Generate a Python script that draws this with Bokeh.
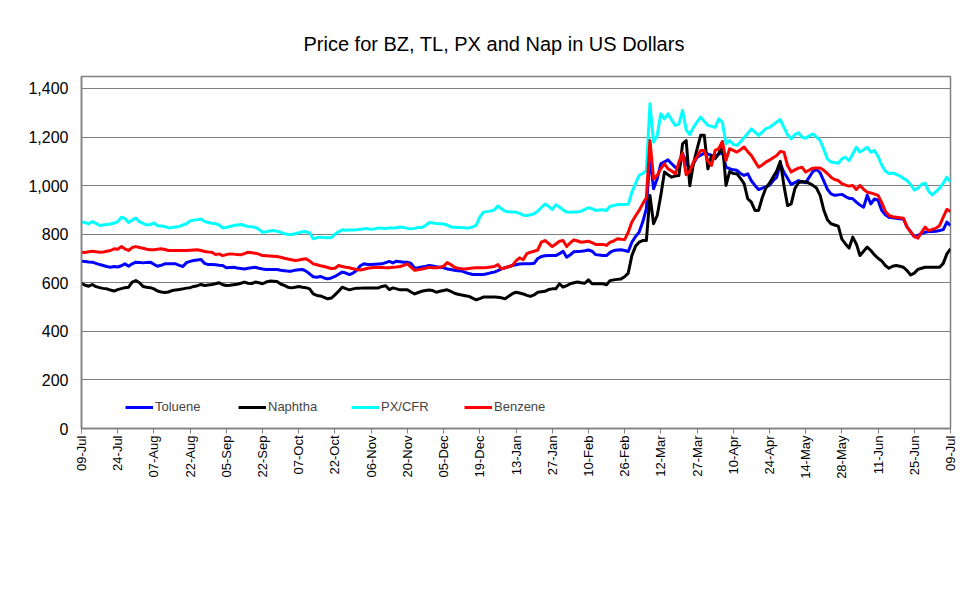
from bokeh.plotting import figure
from bokeh.models import FixedTicker, NumeralTickFormatter, Range1d, Legend, LegendItem
from bokeh.embed import file_html
from bokeh.resources import INLINE
import math

tick_labels = ["09-Jul", "24-Jul", "07-Aug", "22-Aug", "05-Sep", "22-Sep", "07-Oct", "22-Oct",
               "06-Nov", "20-Nov", "05-Dec", "19-Dec", "13-Jan", "27-Jan", "10-Feb", "26-Feb",
               "12-Mar", "27-Mar", "10-Apr", "24-Apr", "14-May", "28-May", "11-Jun", "25-Jun", "09-Jul"]

toluene = [
    689, 688, 686, 685, 680, 675, 671, 667, 664, 667,
    665, 670, 678, 668, 678, 685, 684, 682, 684, 685,
    676, 668, 672, 678, 678, 678, 678, 672, 667, 683,
    688, 692, 694, 696, 680, 675, 675, 674, 672, 671,
    662, 663, 664, 661, 659, 657, 660, 662, 664, 660,
    657, 655, 655, 655, 655, 652, 650, 648, 648, 652,
    654, 655, 648, 637, 625, 623, 626, 620, 616, 620,
    626, 635, 644, 640, 634, 640, 651, 670, 678, 675,
    675, 676, 677, 678, 683, 688, 682, 689, 687, 685,
    685, 680, 660, 662, 665, 667, 671, 669, 666, 664,
    662, 657, 655, 652, 650, 648, 643, 638, 634, 634,
    634, 634, 637, 641, 644, 650, 657, 662, 666, 671,
    674, 677, 678, 678, 678, 680, 700, 708, 711, 712,
    712, 712, 720, 730, 705, 715, 728, 729, 730, 732,
    735, 730, 716, 714, 712, 712, 725, 733, 735, 736,
    733, 729, 767, 790, 808, 850, 905, 1124, 987, 1028,
    1090, 1098, 1106, 1090, 1075, 1069, 1131, 1100, 1063, 1090,
    1117, 1125, 1134, 1130, 1125, 1121, 1130, 1138, 1076, 1070,
    1065, 1063, 1050, 1042, 1049, 1020, 1001, 984, 990, 995,
    1001, 1020, 1035, 1090, 1055, 1030, 1005, 1012, 1021, 1015,
    1012, 1035, 1058, 1067, 1053, 1020, 985, 966, 960, 962,
    964, 955, 948, 946, 932, 920, 911, 960, 925, 945,
    940, 898, 880, 870, 868, 866, 864, 863, 830, 810,
    790, 795, 802, 808, 811, 811, 812, 815, 819, 850, 836]

naphtha = [
    598, 590, 586, 593, 584, 580, 577, 575, 570, 566,
    572, 576, 580, 582, 603, 609, 600, 585, 582, 580,
    575, 566, 562, 560, 562, 568, 570, 572, 575, 578,
    580, 585, 588, 593, 589, 591, 593, 596, 600, 592,
    589, 590, 592, 594, 598, 603, 598, 597, 603, 600,
    596, 603, 607, 606, 605, 595, 589, 582, 579, 582,
    585, 582, 580, 575, 554, 548, 546, 540, 534, 537,
    550, 565, 582, 576, 571, 575, 578, 578, 579, 579,
    579, 579, 579, 585, 588, 572, 579, 575, 571, 571,
    571, 562, 554, 560, 565, 568, 570, 568, 561, 565,
    568, 571, 565, 557, 553, 550, 547, 544, 537, 530,
    535, 541, 541, 541, 541, 540, 538, 534, 545, 555,
    561, 558, 554, 548, 544, 550, 561, 563, 565, 572,
    575, 575, 596, 582, 588, 596, 600, 603, 600, 598,
    612, 596, 596, 596, 596, 592, 609, 612, 614, 616,
    625, 640, 712, 750, 767, 774, 774, 959, 843, 877,
    960, 1056, 1045, 1035, 1040, 1042, 1172, 1186, 1000, 1090,
    1150, 1207, 1207, 1069, 1124, 1111, 1131, 1179, 1001, 1058,
    1050, 1049, 1030, 1008, 946, 932, 898, 898, 950, 990,
    1010, 1035, 1060, 1100, 1000, 918, 925, 987, 1012, 1017,
    1015, 1010, 1001, 990, 960, 900, 860, 843, 838, 833,
    780, 760, 743, 788, 760, 712, 730, 747, 733, 715,
    701, 690, 671, 660, 668, 671, 668, 664, 650, 632,
    640, 655, 660, 664, 664, 664, 664, 664, 680, 719, 740]

px_cfr = [
    850, 848, 843, 852, 845, 836, 838, 840, 842, 846,
    852, 870, 865, 848, 858, 867, 852, 845, 838, 840,
    846, 835, 834, 832, 826, 828, 830, 832, 838, 843,
    855, 858, 860, 863, 852, 848, 845, 843, 838, 826,
    828, 832, 836, 838, 840, 836, 832, 831, 829, 820,
    808, 810, 813, 815, 812, 808, 802, 800, 799, 802,
    806, 810, 811, 805, 781, 786, 788, 786, 785, 786,
    800, 810, 818, 816, 817, 817, 818, 820, 822, 822,
    820, 822, 826, 825, 824, 826, 826, 827, 830, 828,
    824, 822, 824, 828, 828, 835, 848, 846, 844, 843,
    842, 838, 830, 829, 828, 828, 826, 826, 830, 836,
    870, 891, 893, 896, 900, 916, 905, 895, 892, 891,
    891, 886, 878, 877, 880, 884, 895, 910, 924, 915,
    902, 921, 912, 900, 891, 890, 891, 891, 895, 902,
    909, 905, 898, 900, 901, 898, 915, 918, 922, 922,
    922, 923, 973, 1008, 1042, 1050, 1062, 1337, 1179, 1207,
    1296, 1275, 1296, 1270, 1248, 1253, 1310, 1230, 1210, 1240,
    1262, 1282, 1265, 1248, 1244, 1240, 1275, 1262, 1172, 1186,
    1170, 1166, 1180, 1198, 1215, 1234, 1220, 1207, 1220, 1235,
    1240, 1250, 1262, 1272, 1240, 1210, 1193, 1210, 1218, 1200,
    1195, 1205, 1213, 1200, 1186, 1150, 1110, 1097, 1095, 1092,
    1110, 1117, 1103, 1130, 1158, 1138, 1148, 1158, 1138, 1145,
    1120, 1085, 1060, 1050, 1052, 1046, 1040, 1030, 1021, 1005,
    982, 990, 1005, 1010, 975, 962, 975, 990, 1010, 1035, 1015]

benzene = [
    726, 725, 728, 730, 728, 726, 727, 730, 733, 740,
    738, 749, 740, 733, 745, 749, 745, 742, 738, 736,
    736, 738, 740, 737, 733, 733, 733, 733, 733, 733,
    734, 735, 736, 733, 729, 727, 726, 716, 719, 712,
    716, 719, 718, 716, 715, 720, 726, 724, 722, 718,
    712, 711, 710, 709, 708, 705, 701, 698, 695, 692,
    694, 697, 699, 690, 678, 674, 670, 667, 663, 659,
    660, 671, 667, 664, 662, 658, 655, 653, 656, 660,
    662, 663, 664, 663, 662, 662, 664, 665, 667, 672,
    678, 664, 651, 654, 657, 660, 664, 662, 662, 664,
    668, 683, 675, 664, 660, 658, 657, 659, 661, 662,
    662, 662, 663, 665, 667, 675, 657, 662, 667, 671,
    690, 703, 695, 720, 726, 730, 735, 767, 774, 762,
    749, 760, 771, 774, 749, 765, 777, 772, 767, 769,
    771, 765, 758, 758, 758, 754, 767, 772, 781, 779,
    778, 808, 850, 875, 898, 925, 950, 1186, 1028, 1042,
    1070, 1090, 1069, 1060, 1049, 1097, 1135, 1045, 1060, 1097,
    1120, 1145, 1145, 1100, 1083, 1145, 1152, 1182, 1104, 1152,
    1145, 1138, 1148, 1159, 1140, 1124, 1100, 1076, 1085, 1097,
    1105, 1115, 1124, 1141, 1138, 1083, 1056, 1065, 1072, 1076,
    1056, 1064, 1072, 1073, 1073, 1063, 1050, 1035, 1025, 1021,
    1008, 1002, 998, 1001, 984, 1001, 985, 973, 970, 965,
    960, 930, 895, 877, 872, 870, 868, 866, 829, 810,
    790, 784, 808, 829, 815, 820, 825, 836, 870, 902, 894]

y_ticks = [0, 200, 400, 600, 800, 1000, 1200, 1400]
series_names = ["Toluene", "Naphtha", "PX/CFR", "Benzene"]
series_colors = ["#0000FF", "#000000", "#00FFFF", "#FF0000"]
title_text = "Price for BZ, TL, PX and Nap in US Dollars"

n = len(toluene)
xs = list(range(n))
step = (n - 1) // (len(tick_labels) - 1)
tick_pos = [i * step for i in range(len(tick_labels))]

FONT = "Liberation Sans"
p = figure(width=967, height=589, output_backend="svg", toolbar_location=None,
           x_range=Range1d(0, n - 1), y_range=Range1d(0, 1449.4),
           min_border_left=81, min_border_right=17, min_border_top=76, min_border_bottom=161)
p.background_fill_color = "white"
p.border_fill_color = "white"
p.outline_line_color = "#808080"
p.outline_line_width = 1.5

p.title.text = title_text
p.title.align = "left"
p.title.offset = 222
p.title.text_font = FONT
p.title.text_font_size = "20px"
p.title.text_font_style = "normal"
p.title.text_color = "black"
p.title.standoff = 44

p.xgrid.visible = False
p.ygrid.grid_line_color = "#808080"
p.ygrid.grid_line_width = 1
p.ygrid.ticker = FixedTicker(ticks=y_ticks)

p.yaxis.ticker = FixedTicker(ticks=y_ticks)
p.yaxis.formatter = NumeralTickFormatter(format="0,0")
p.yaxis.major_tick_out = 0
p.yaxis.major_tick_in = 0
p.yaxis.minor_tick_out = 0
p.yaxis.minor_tick_in = 0
p.yaxis.axis_line_color = "#808080"
p.yaxis.axis_line_width = 1.5
p.yaxis.major_label_standoff = 13
p.yaxis.major_label_text_font = FONT
p.yaxis.major_label_text_font_size = "16px"
p.yaxis.major_label_text_color = "black"

p.xaxis.ticker = FixedTicker(ticks=tick_pos)
p.xaxis.major_label_overrides = {tp: lab for tp, lab in zip(tick_pos, tick_labels)}
p.xaxis.major_label_orientation = math.pi / 2
p.xaxis.major_tick_out = 5
p.xaxis.major_tick_in = 0
p.xaxis.minor_tick_out = 0
p.xaxis.minor_tick_in = 0
p.xaxis.major_tick_line_color = "#808080"
p.xaxis.axis_line_color = "#808080"
p.xaxis.axis_line_width = 1.5
p.xaxis.major_label_standoff = 2
p.xaxis.major_label_text_font = FONT
p.xaxis.major_label_text_font_size = "13px"
p.xaxis.major_label_text_color = "black"

items = []
for name, col, data in zip(series_names, series_colors, [toluene, naphtha, px_cfr, benzene]):
    r = p.line(xs, data, line_color=col, line_width=3, line_join="round")
    items.append(LegendItem(label=name, renderers=[r]))

legend = Legend(items=items, orientation="horizontal", location=(44, 14),
                glyph_width=28, glyph_height=14, label_standoff=2, label_width=83, spacing=0,
                padding=0, margin=0, border_line_color=None, background_fill_alpha=0,
                label_text_font=FONT, label_text_font_size="13px")
p.add_layout(legend, "center")

open("out.html", "w").write(file_html(p, INLINE))
